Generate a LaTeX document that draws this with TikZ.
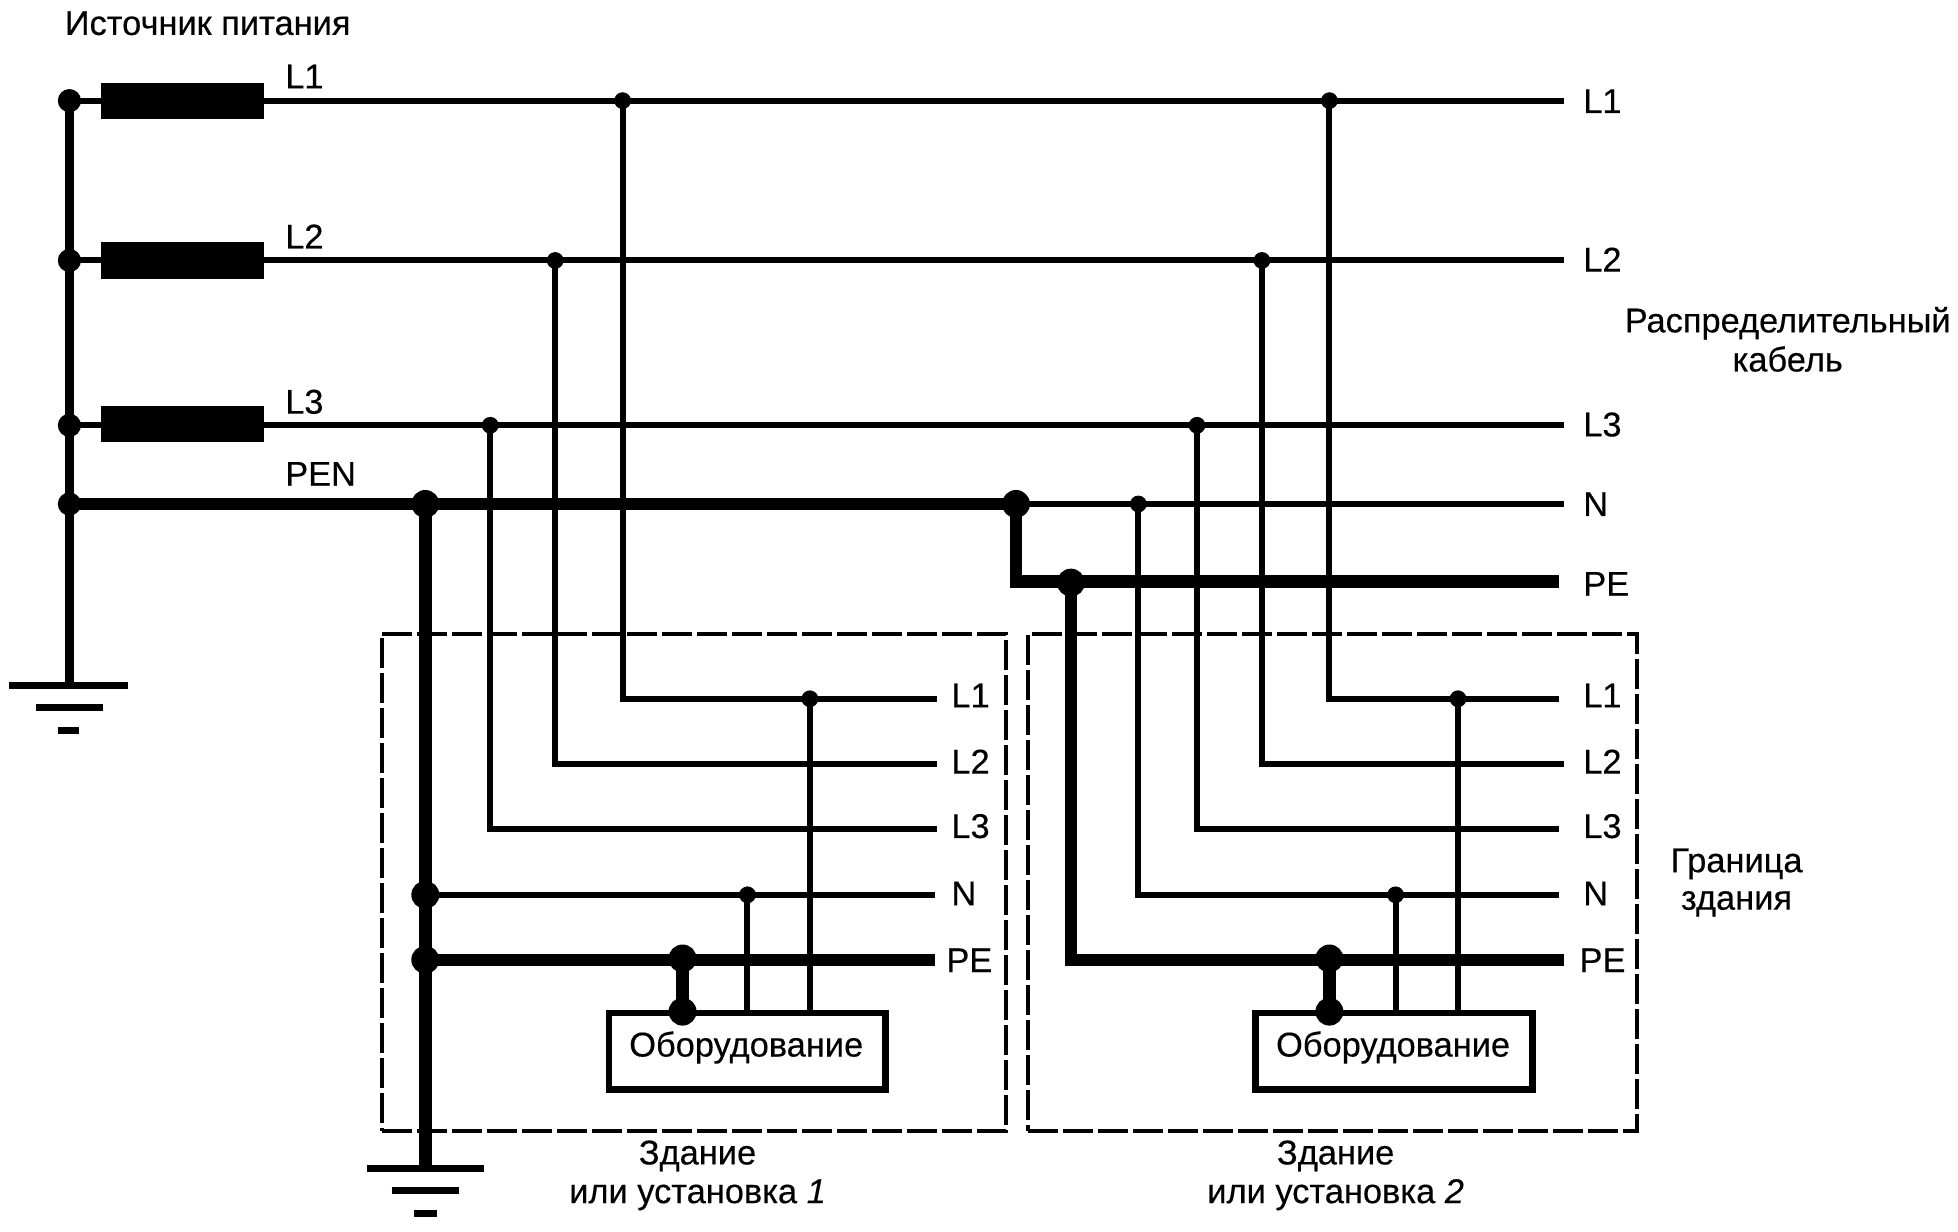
\documentclass[tikz,border=0pt]{standalone}
\usepackage{fontspec}
\setmainfont{Liberation Sans}[FakeBold=0.3]
\begin{document}
\begin{tikzpicture}[x=0.62436pt,y=-0.62436pt,
  thin wire/.style={line width=3pt},
  thick wire/.style={line width=6.2pt},
  bus wire/.style={line width=4.2pt},
  earth/.style={line width=3.5pt},
  dot small/.style={circle,fill=black,inner sep=0pt,minimum size=8.4pt},
  dot mid/.style={circle,fill=black,inner sep=0pt,minimum size=11.6pt},
  dot big/.style={circle,fill=black,inner sep=0pt,minimum size=14pt},
  fuse/.style={rectangle,fill=black,inner sep=0pt,minimum width=81.2pt,minimum height=18.1pt},
  equip/.style={rectangle,draw=black,line width=3.3pt,fill=white,inner sep=0pt,minimum width=138.3pt,minimum height=38.2pt},
  building/.style={rectangle,draw=black,line width=2pt,dash pattern=on 15pt off 2.5pt,inner sep=0pt},
  lab/.style={inner sep=0pt,anchor=base west,yshift=0.7pt,font=\fontsize{17.2}{20}\selectfont},
  captext/.style={inner sep=0pt,anchor=base,yshift=0.7pt,font=\fontsize{17.2}{20}\selectfont}]
\useasboundingbox (-0.6,-0.6) rectangle (1567.4,986);
\fill[white] (-0.6,-0.6) rectangle (1567.4,986);

% building outlines
\node[building,minimum width=312.2pt,minimum height=248.5pt] (b1) at (555,706) {};
\node[building,minimum width=304.1pt,minimum height=248.5pt] (b2) at (1066.5,706) {};

% named points
\coordinate (s1) at (55,80); \coordinate (s2) at (55,208); \coordinate (s3) at (55,340); \coordinate (s4) at (55,403);
\coordinate (e1) at (1252,80); \coordinate (e2) at (1252,208); \coordinate (e3) at (1252,340); \coordinate (e4) at (1252,403);
\coordinate (e5) at (1248,465); \coordinate (cor) at (813,465);
\coordinate (g1) at (55,548); \coordinate (g1a) at (7,548); \coordinate (g1b) at (102,548);
\coordinate (g1c) at (28,566); \coordinate (g1d) at (82,566); \coordinate (g1e) at (46,584); \coordinate (g1f) at (63,584);
\coordinate (g2) at (340,935); \coordinate (g2a) at (293,935); \coordinate (g2b) at (387,935);
\coordinate (g2c) at (313,953); \coordinate (g2d) at (367,953); \coordinate (g2e) at (331,971); \coordinate (g2f) at (349,971);
% building 1 ends
\coordinate (a1) at (750,559); \coordinate (a2) at (750,611); \coordinate (a3) at (750,663); \coordinate (a4) at (748,716); \coordinate (a5) at (748,768);
\coordinate (ac1) at (498,559); \coordinate (ac2) at (444,611); \coordinate (ac3) at (392,663);
% building 2 ends
\coordinate (c1) at (1248,559); \coordinate (c2) at (1252,611); \coordinate (c3) at (1248,663); \coordinate (c4) at (1248,716); \coordinate (c5) at (1252,768);
\coordinate (cc1) at (1064,559); \coordinate (cc2) at (1010,611); \coordinate (cc3) at (958,663); \coordinate (cc4) at (911,716); \coordinate (cc5) at (857,768);

% equipment
\node[equip] (eq1) at (597.8,841.3) {};
\node[equip] (eq2) at (1115.8,841.3) {};
\node[captext] (eqt1) at (597,846.6) {Оборудование};
\node[captext] (eqt2) at (1115,846.6) {Оборудование};

% junctions
\node[dot mid] (j1) at (s1) {}; \node[dot mid] (j2) at (s2) {}; \node[dot mid] (j3) at (s3) {}; \node[dot mid] (j4) at (s4) {};
\node[dot big] (pen1) at (340,403) {}; \node[dot big] (pen2) at (813,403) {}; \node[dot big] (pe0) at (857,466) {};
\node[dot small] (t1) at (498,80) {}; \node[dot small] (t2) at (444,208) {}; \node[dot small] (t3) at (392,340) {};
\node[dot small] (u1) at (1064,80) {}; \node[dot small] (u2) at (1010,208) {}; \node[dot small] (u3) at (958,340) {}; \node[dot small] (u4) at (911,403) {};
\node[dot small] (v1) at (648,559) {}; \node[dot small] (v2) at (598,716) {};
\node[dot small] (w1) at (1167,559) {}; \node[dot small] (w2) at (1117,716) {};
\node[dot big] (n1) at (340,716) {}; \node[dot big] (pe1) at (340,768) {};
\node[dot big] (q1) at (546,767) {}; \node[dot big] (q2) at (546,809.5) {};
\node[dot big] (r1) at (1064,767) {}; \node[dot big] (r2) at (1064,809.5) {};

% source fuses
\node[fuse] (f1) at (145.5,80.5) {}; \node[fuse] (f2) at (145.5,208) {}; \node[fuse] (f3) at (145.5,339) {};

% wires
\draw[bus wire] (j1.center) -- (g1);
\draw[thin wire] (s1) -- (e1); \draw[thin wire] (s2) -- (e2); \draw[thin wire] (s3) -- (e3);
\draw[thick wire] (s4) -- (pen2.center);
\draw[thin wire] (pen2.center) -- (e4);
\draw[thick wire] (pen2.center) -- (cor) -- (e5);
\draw[thick wire] (pen1.center) -- (g2);
\draw[thick wire] (pe0.center) -- (cc5) -- (c5);
\draw[thin wire] (t1.center) -- (ac1) -- (a1);
\draw[thin wire] (t2.center) -- (ac2) -- (a2);
\draw[thin wire] (t3.center) -- (ac3) -- (a3);
\draw[thin wire] (u1.center) -- (cc1) -- (c1);
\draw[thin wire] (u2.center) -- (cc2) -- (c2);
\draw[thin wire] (u3.center) -- (cc3) -- (c3);
\draw[thin wire] (u4.center) -- (cc4) -- (c4);
\draw[thin wire] (n1.center) -- (a4);
\draw[thick wire] (pe1.center) -- (a5);
\draw[thin wire] (v1.center) -- (v1 |- eq1.north);
\draw[thin wire] (v2.center) -- (v2 |- eq1.north);
\draw[thin wire] (w1.center) -- (w1 |- eq2.north);
\draw[thin wire] (w2.center) -- (w2 |- eq2.north);
\draw[thick wire] (q1.center) -- (q2.center);
\draw[thick wire] (r1.center) -- (r2.center);

% earth symbols
\draw[earth] (g1a) -- (g1b); \draw[earth] (g1c) -- (g1d); \draw[earth] (g1e) -- (g1f);
\draw[earth] (g2a) -- (g2b); \draw[earth] (g2c) -- (g2d); \draw[earth] (g2e) -- (g2f);

% labels
\node[lab] (tsrc) at (51,28.5) {Источник питания};
\node[lab] (ls1) at (227.5,71.3) {L1};
\node[lab] (ls2) at (227.5,199.5) {L2};
\node[lab] (ls3) at (227.5,331.8) {L3};
\node[lab] (lspen) at (227.5,389.5) {PEN};
\node[lab] (lr1) at (1267,91) {L1};
\node[lab] (lr2) at (1267,218) {L2};
\node[lab] (lr3) at (1267,350) {L3};
\node[lab] (lrn) at (1267,413.7) {N};
\node[lab] (lrpe) at (1267,477.6) {PE};
\node[captext] (cab1) at (1431,266.7) {Распределительный};
\node[captext] (cab2) at (1431,298) {кабель};
\node[lab] (la1) at (761,567) {L1};
\node[lab] (la2) at (761,620) {L2};
\node[lab] (la3) at (761,671.6) {L3};
\node[lab] (la4) at (761,725.5) {N};
\node[lab] (la5) at (757,779) {PE};
\node[lab] (lc1) at (1267,567) {L1};
\node[lab] (lc2) at (1267,620) {L2};
\node[lab] (lc3) at (1267,671.6) {L3};
\node[lab] (lc4) at (1267,725.5) {N};
\node[lab] (lc5) at (1264,779) {PE};
\node[captext] (gr1) at (1390,699) {Граница};
\node[captext] (gr2) at (1390,729) {здания};
\node[captext] (bd1) at (558,933) {Здание};
\node[captext] (bd1b) at (558,964) {или установка \textit{1}};
\node[captext] (bd2) at (1069,933) {Здание};
\node[captext] (bd2b) at (1069,964) {или установка \textit{2}};
\end{tikzpicture}
\end{document}
